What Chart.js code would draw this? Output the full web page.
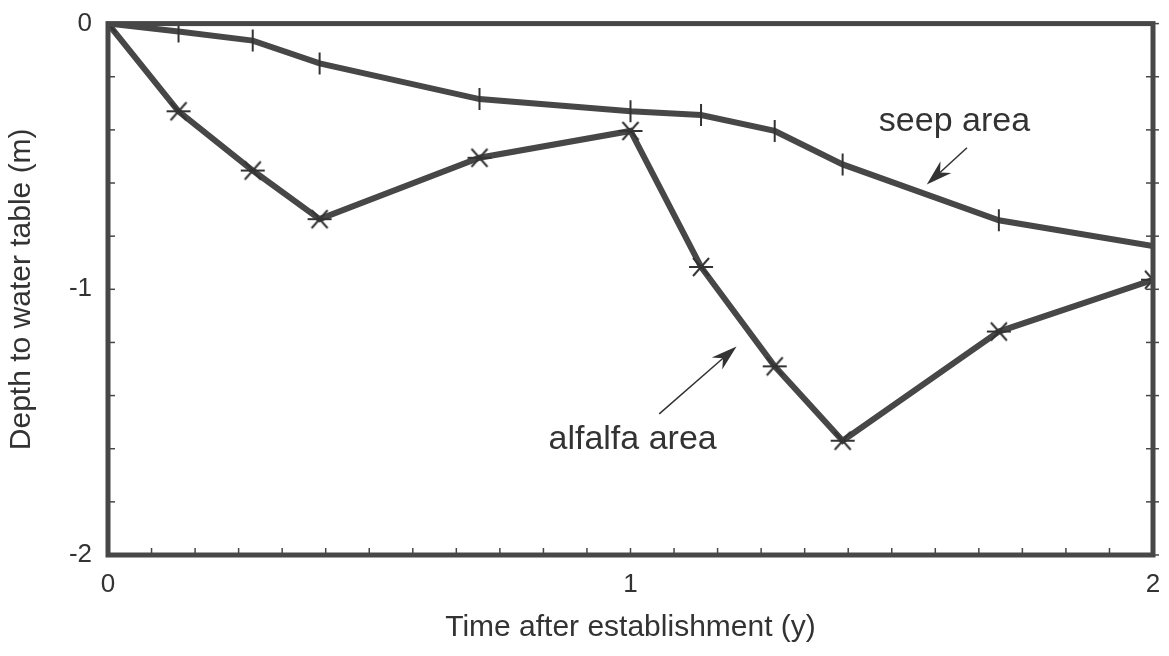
<!DOCTYPE html>
<html>
<head>
<meta charset="utf-8">
<script src="https://cdn.jsdelivr.net/npm/chart.js@4/dist/chart.umd.min.js"></script>
<style>
  html, body { margin: 0; padding: 0; background: #fff; overflow: hidden; }
  #wrap { width: 1169px; height: 656px; }
  canvas { display: block; }
</style>
</head>
<body>
<div id="wrap"><canvas id="grafica"></canvas></div>
<script>
// tiempo (años) y profundidad (m)
var tiempo = [0, 0.135, 0.277, 0.405, 0.711, 1.0, 1.135, 1.276, 1.406, 1.705, 2.0]
var seep = [0, -0.03, -0.064, -0.15, -0.284, -0.33, -0.344, -0.404, -0.53, -0.74, -0.837]
var alfalfa = [0, -0.33, -0.553, -0.736, -0.505, -0.404, -0.916, -1.29, -1.57, -1.159, -0.964]
var xTicks = Array.from({length: 25}, (v, i) => i / 12)
var yTicks = Array.from({length: 11}, (v, i) => -i / 5)
var labelsX = [0, 1, 2]
var labelsY = [0, -1, -2]

var gris = '#474747'
var texto = '#333333'
var fuente = '"Liberation Sans", Arial, sans-serif'

function puntos(ys) {
    return tiempo.map((t, i) => ({x: t, y: ys[i]}))
}
function esEtiqueta(v, lista) {
    return lista.some(l => Math.abs(l - v) < 1e-6)
}

// marcador tipo asterisco (x con barra horizontal)
var asterisco = document.createElement('canvas')
asterisco.width = 26
asterisco.height = 26
var ac = asterisco.getContext('2d')
ac.strokeStyle = '#333'
ac.lineWidth = 2
ac.beginPath()
ac.moveTo(5, 4); ac.lineTo(21, 22)
ac.moveTo(21, 4); ac.lineTo(5, 22)
ac.moveTo(1, 13); ac.lineTo(25, 13)
ac.stroke()

// marco grueso, marcas hacia adentro y anotaciones
var marco = {
    id: 'marco',
    afterDatasetsDraw(chart) {
        var ctx = chart.ctx
        var a = chart.chartArea
        var sx = chart.scales.x, sy = chart.scales.y
        ctx.save()
        ctx.strokeStyle = gris
        ctx.lineWidth = 1.5
        xTicks.forEach(v => {
            var px = sx.getPixelForValue(v)
            ctx.beginPath(); ctx.moveTo(px, a.bottom); ctx.lineTo(px, a.bottom - 7); ctx.stroke()
        })
        yTicks.forEach(v => {
            var py = sy.getPixelForValue(v)
            ctx.beginPath(); ctx.moveTo(a.left, py); ctx.lineTo(a.left + 7, py); ctx.stroke()
            ctx.beginPath(); ctx.moveTo(a.right - 7, py); ctx.lineTo(a.right + 6, py); ctx.stroke()
        })
        ctx.lineWidth = 5
        ctx.strokeRect(a.left, a.top, a.right - a.left, a.bottom - a.top)

        // anotaciones
        ctx.fillStyle = texto
        ctx.font = '34px ' + fuente
        ctx.textAlign = 'center'
        ctx.textBaseline = 'middle'
        ctx.fillText('seep area', sx.getPixelForValue(1.62), sy.getPixelForValue(-0.37))
        ctx.fillText('alfalfa area', sx.getPixelForValue(1.004), sy.getPixelForValue(-1.567))
        flecha(ctx, sx.getPixelForValue(1.644), sy.getPixelForValue(-0.467), sx.getPixelForValue(1.567), sy.getPixelForValue(-0.606))
        flecha(ctx, sx.getPixelForValue(1.055), sy.getPixelForValue(-1.469), sx.getPixelForValue(1.203), sy.getPixelForValue(-1.215))
        ctx.restore()
    }
}

function flecha(ctx, x1, y1, x2, y2) {
    var ang = Math.atan2(y2 - y1, x2 - x1)
    var largo = 26, ancho = 8
    var bx = x2 - largo * Math.cos(ang), by = y2 - largo * Math.sin(ang)
    ctx.strokeStyle = texto
    ctx.fillStyle = texto
    ctx.lineWidth = 1.5
    ctx.beginPath(); ctx.moveTo(x1, y1); ctx.lineTo(bx + 8 * Math.cos(ang), by + 8 * Math.sin(ang)); ctx.stroke()
    ctx.beginPath()
    ctx.moveTo(x2, y2)
    ctx.lineTo(bx + ancho * Math.sin(ang), by - ancho * Math.cos(ang))
    ctx.lineTo(bx + 8 * Math.cos(ang), by + 8 * Math.sin(ang))
    ctx.lineTo(bx - ancho * Math.sin(ang), by + ancho * Math.cos(ang))
    ctx.closePath()
    ctx.fill()
}

var graf = document.getElementById('grafica').getContext('2d')
var chart = new Chart(graf, {
    type: 'line',
    data: {
        datasets: [
            {
                label: 'seep area',
                data: puntos(seep),
                borderColor: gris,
                borderWidth: 6,
                pointStyle: 'line',
                rotation: 90,
                pointRadius: 11,
                pointBorderWidth: 2,
                pointBorderColor: '#333',
                tension: 0
            },
            {
                label: 'alfalfa area',
                data: puntos(alfalfa),
                borderColor: gris,
                borderWidth: 6,
                pointStyle: asterisco,
                pointRadius: 10,
                tension: 0
            }
        ]
    },
    options: {
        responsive: true,
        maintainAspectRatio: false,
        animation: false,
        layout: { padding: { top: 18, right: 8, left: 0, bottom: 0 } },
        plugins: { legend: { display: false }, tooltip: { enabled: false } },
        scales: {
            x: {
                type: 'linear',
                min: 0, max: 2,
                afterBuildTicks: s => { s.ticks = xTicks.map(v => ({value: v})) },
                afterFit: s => { s.height = 101 },
                grid: { display: false },
                border: { display: false },
                ticks: {
                    autoSkip: false,
                    maxRotation: 0,
                    padding: 6,
                    color: texto,
                    font: { family: fuente, size: 26 },
                    callback: v => esEtiqueta(v, labelsX) ? String(Math.round(v)) : ''
                },
                title: {
                    display: true,
                    text: 'Time after establishment (y)',
                    color: texto,
                    font: { family: fuente, size: 30 },
                    padding: { top: 4, bottom: 10 }
                }
            },
            y: {
                type: 'linear',
                min: -2, max: 0,
                afterBuildTicks: s => { s.ticks = yTicks.map(v => ({value: v})) },
                afterFit: s => { s.width = 108 },
                grid: { display: false },
                border: { display: false },
                ticks: {
                    autoSkip: false,
                    padding: 8,
                    color: texto,
                    font: { family: fuente, size: 26 },
                    callback: v => esEtiqueta(v, labelsY) ? (Math.round(v) === 0 ? '0' : String(Math.round(v))) : ''
                },
                title: {
                    display: true,
                    text: 'Depth to water table (m)',
                    color: texto,
                    font: { family: fuente, size: 30 },
                    padding: { top: 4, bottom: 4 }
                }
            }
        }
    },
    plugins: [marco]
})
</script>
</body>
</html>
